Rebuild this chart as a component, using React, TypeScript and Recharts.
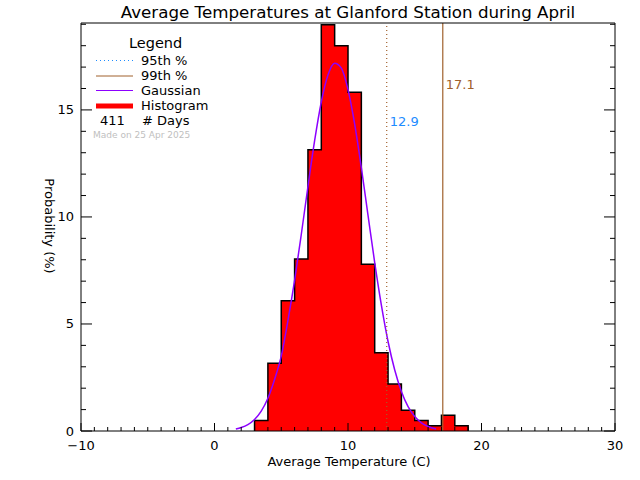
import {
    ComposedChart,
    Area,
    Line,
    XAxis,
    YAxis,
    ReferenceLine
} from "recharts";

// histogram: left edge of each 1-degree bin and its share of days (%)
const binStarts = [3, 4, 5, 6, 7, 8, 9, 10, 11, 12, 13, 14, 15, 16, 17, 18];
const binPercent = [0.49, 3.16, 6.08, 8.03, 13.14, 18.98, 18.0, 15.82, 7.79, 3.65, 2.19, 0.97, 0.49, 0.24, 0.73, 0.24];
const binWidth = 1;

// fitted gaussian
const gaussTemp = [1.6, 2, 2.5, 3, 3.5, 4, 4.5, 5, 5.5, 6, 6.5, 7, 7.5, 8, 8.5, 9, 9.5, 10, 10.5, 11, 11.5, 12, 12.5, 13, 13.5, 14, 14.5, 15, 15.5, 16, 16.6];
const gaussPercent = [0.09, 0.16, 0.3, 0.54, 0.93, 1.53, 2.41, 3.5, 5.16, 7.04, 9.18, 11.42, 13.56, 15.37, 16.63, 17.18, 16.95, 15.95, 14.34, 12.3, 10.07, 7.87, 5.88, 4.18, 2.85, 1.85, 1.14, 0.68, 0.38, 0.21, 0.09];

const p95 = 12.9;
const p99 = 17.1;
const dayCount = 411;
const madeOn = "Made on 25 Apr 2025";

const xMajor = [-10, 0, 10, 20, 30];
const yMajor = [0, 5, 10, 15];
const xTicks = Array.from({ length: 41 }, (_, i) => i - 10);
const yTicks = Array.from({ length: 20 }, (_, i) => i);

const FONT = "DejaVu Sans";
const BROWN = "#A0602C";
const BLUE = "#1E8CFF";
const PURPLE = "#8C00FF";

// step outline for the histogram
const histData = [{ t: binStarts[0], pct: 0 }];
binStarts.forEach((s, i) => histData.push({ t: s, pct: binPercent[i] }));
const lastEdge = binStarts[binStarts.length - 1] + binWidth;
histData.push({ t: lastEdge, pct: binPercent[binPercent.length - 1] });
histData.push({ t: lastEdge, pct: 0 });

const gaussData = gaussTemp.map((t, i) => ({ t, g: gaussPercent[i] }));

const fmt = (v: number) => (v < 0 ? `\u2212${Math.abs(v)}` : `${v}`);

const BottomTick = ({ x, y, payload }: any) => {
    const major = xMajor.includes(payload.value);
    return (
        <g>
            <line x1={x} x2={x} y1={y} y2={y - (major ? 8 : 4)} stroke="#000" />
            {major && (
                <text x={x} y={y + 19} textAnchor="middle" fontSize={13} fontFamily={FONT} fill="#000">
                    {fmt(payload.value)}
                </text>
            )}
        </g>
    );
};

const TopTick = ({ x, y, payload }: any) => {
    const major = xMajor.includes(payload.value);
    return <line x1={x} x2={x} y1={y} y2={y + (major ? 8 : 4)} stroke="#000" />;
};

const LeftTick = ({ x, y, payload }: any) => {
    const major = yMajor.includes(payload.value);
    return (
        <g>
            <line x1={x} x2={x + (major ? 11 : 5)} y1={y} y2={y} stroke="#000" />
            {major && (
                <text x={x - 7} y={y + 4.5} textAnchor="end" fontSize={13} fontFamily={FONT} fill="#000">
                    {payload.value}
                </text>
            )}
        </g>
    );
};

const RightTick = ({ x, y, payload }: any) => {
    const major = yMajor.includes(payload.value);
    return <line x1={x} x2={x - (major ? 11 : 5)} y1={y} y2={y} stroke="#000" />;
};

function App() {
    return (
        <div style={{ position: "absolute", left: 0, top: 0, width: 640, height: 480, background: "#fff" }}>
            <ComposedChart width={640} height={480} margin={{ top: 0, right: 0, bottom: 0, left: 0 }}>
                <XAxis
                    dataKey="t"
                    type="number"
                    domain={[-10, 30]}
                    ticks={xTicks}
                    interval={0}
                    allowDataOverflow
                    height={49}
                    tickSize={0}
                    tickMargin={0}
                    tickLine={false}
                    axisLine={{ stroke: "#000" }}
                    tick={<BottomTick />}
                />
                <XAxis
                    xAxisId="top"
                    orientation="top"
                    type="number"
                    domain={[-10, 30]}
                    ticks={xTicks}
                    interval={0}
                    allowDataOverflow
                    height={23}
                    tickSize={0}
                    tickMargin={0}
                    tickLine={false}
                    axisLine={{ stroke: "#000" }}
                    tick={<TopTick />}
                />
                <YAxis
                    type="number"
                    domain={[0, 19.06]}
                    ticks={yTicks}
                    interval={0}
                    allowDataOverflow
                    width={81}
                    tickSize={0}
                    tickMargin={0}
                    tickLine={false}
                    axisLine={{ stroke: "#000" }}
                    tick={<LeftTick />}
                />
                <YAxis
                    yAxisId="right"
                    orientation="right"
                    type="number"
                    domain={[0, 19.06]}
                    ticks={yTicks}
                    interval={0}
                    allowDataOverflow
                    width={25}
                    tickSize={0}
                    tickMargin={0}
                    tickLine={false}
                    axisLine={{ stroke: "#000" }}
                    tick={<RightTick />}
                />

                <Area
                    data={histData}
                    dataKey="pct"
                    type="stepAfter"
                    fill="#FF0000"
                    fillOpacity={1}
                    stroke="#000"
                    strokeWidth={1.5}
                    baseValue={0}
                    isAnimationActive={false}
                    dot={false}
                    activeDot={false}
                />
                <Line
                    data={gaussData}
                    dataKey="g"
                    type="monotone"
                    stroke={PURPLE}
                    strokeWidth={1.5}
                    dot={false}
                    activeDot={false}
                    isAnimationActive={false}
                />

                <ReferenceLine
                    x={p95}
                    stroke={BROWN}
                    strokeDasharray="1 3"
                    strokeWidth={1.2}
                    label={(props: any) => (
                        <text x={props.viewBox.x + 3} y={props.viewBox.y + 103} fontSize={13} fontFamily={FONT} fill={BLUE}>
                            {p95}
                        </text>
                    )}
                />
                <ReferenceLine
                    x={p99}
                    stroke={BROWN}
                    strokeWidth={1.2}
                    label={(props: any) => (
                        <text x={props.viewBox.x + 3} y={props.viewBox.y + 66} fontSize={13} fontFamily={FONT} fill={BROWN}>
                            {p99}
                        </text>
                    )}
                />
            </ComposedChart>

            <svg width={640} height={480} style={{ position: "absolute", left: 0, top: 0, pointerEvents: "none" }}>
                <g fontFamily={FONT} fill="#000">
                    <text x={348} y={18} textAnchor="middle" fontSize={16.7}>
                        Average Temperatures at Glanford Station during April
                    </text>
                    <text x={349} y={466} textAnchor="middle" fontSize={13}>
                        Average Temperature (C)
                    </text>
                    <text x={0} y={0} textAnchor="middle" fontSize={13} transform="translate(45,226) rotate(90)">
                        Probability (%)
                    </text>

                    {/* legend */}
                    <text x={129} y={48} fontSize={14.5}>Legend</text>
                    <line x1={96} x2={133} y1={60.5} y2={60.5} stroke={BLUE} strokeDasharray="1 3" />
                    <text x={141} y={65} fontSize={13}>95th %</text>
                    <line x1={96} x2={133} y1={76} y2={76} stroke={BROWN} />
                    <text x={141} y={80} fontSize={13}>99th %</text>
                    <line x1={96} x2={133} y1={90.5} y2={90.5} stroke={PURPLE} />
                    <text x={141} y={95} fontSize={13}>Gaussian</text>
                    <line x1={96} x2={133} y1={106} y2={106} stroke="#FF0000" strokeWidth={5} />
                    <text x={141} y={110} fontSize={13}>Histogram</text>
                    <text x={100} y={125} fontSize={13}>{dayCount}</text>
                    <text x={142} y={125} fontSize={13}># Days</text>
                    <text x={93} y={138} fontSize={9} fill="#C0C0C0">{madeOn}</text>
                </g>
            </svg>
        </div>
    );
}

export default App;
